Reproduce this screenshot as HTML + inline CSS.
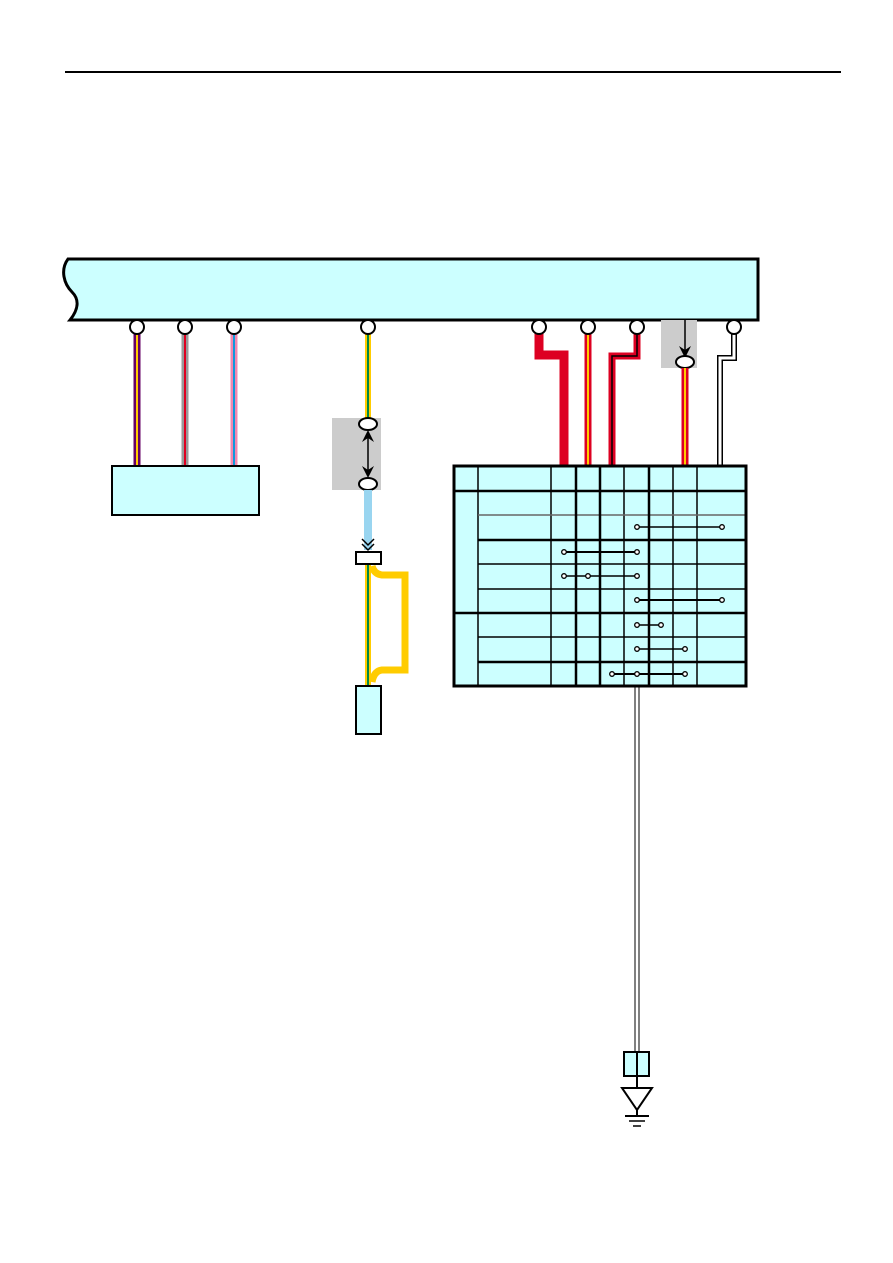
<!DOCTYPE html>
<html><head><meta charset="utf-8"><style>
html,body{margin:0;padding:0;background:#fff}
svg{display:block}
</style></head><body>
<svg width="893" height="1263" viewBox="0 0 893 1263" xmlns="http://www.w3.org/2000/svg">
<line x1="65" y1="72" x2="841" y2="72" stroke="#000" stroke-width="2"/>
<path d="M68,259 L758,259 L758,320 L70,320 C78,310 80,300 72,292 C64,284 60,270 68,259 Z" fill="#ccffff" stroke="#000" stroke-width="3"/>
<g>
<line x1="137" y1="330" x2="137" y2="466" stroke="#660066" stroke-width="7"/>
<line x1="137" y1="330" x2="137" y2="466" stroke="#ffcc00" stroke-width="2"/>
<line x1="185" y1="330" x2="185" y2="466" stroke="#999" stroke-width="7"/>
<line x1="185" y1="330" x2="185" y2="466" stroke="#e00020" stroke-width="2"/>
<line x1="234" y1="330" x2="234" y2="466" stroke="#f088b0" stroke-width="7"/>
<line x1="234" y1="330" x2="234" y2="466" stroke="#1199dd" stroke-width="2"/>
</g>
<rect x="112" y="466" width="147" height="49" fill="#ccffff" stroke="#000" stroke-width="2"/>
<rect x="332" y="418" width="49" height="72" fill="#cccccc"/>
<line x1="368" y1="330" x2="368" y2="418" stroke="#ffcc00" stroke-width="6"/>
<line x1="368" y1="330" x2="368" y2="418" stroke="#008844" stroke-width="2"/>
<ellipse cx="368" cy="424" rx="9" ry="6" fill="#fff" stroke="#000" stroke-width="2"/>
<ellipse cx="368" cy="484" rx="9" ry="6" fill="#fff" stroke="#000" stroke-width="2"/>
<line x1="368" y1="432" x2="368" y2="476" stroke="#000" stroke-width="1.5"/>
<path d="M362,442 L368,430 L374,442 L368,438 Z" fill="#000"/>
<path d="M362,466 L368,478 L374,466 L368,470 Z" fill="#000"/>
<line x1="368" y1="490" x2="368" y2="550" stroke="#99d5f0" stroke-width="8"/>
<path d="M362,539 L368,545 L374,539 M362,544 L368,550 L374,544" fill="none" stroke="#000" stroke-width="1.5"/>
<path d="M372,566 Q374,574 382,575 L405,575 L405,670 L382,670 Q374,671 372,682" fill="none" stroke="#ffcc00" stroke-width="7"/>
<line x1="368" y1="564" x2="368" y2="686" stroke="#ffcc00" stroke-width="6"/>
<line x1="368" y1="564" x2="368" y2="686" stroke="#008844" stroke-width="2"/>
<rect x="356" y="552" width="25" height="12" fill="#fff" stroke="#000" stroke-width="2"/>
<rect x="356" y="686" width="25" height="48" fill="#ccffff" stroke="#000" stroke-width="2"/>
<path d="M539,330 L539,355 L564,355 L564,466" fill="none" stroke="#dd0022" stroke-width="9"/>
<line x1="588" y1="330" x2="588" y2="466" stroke="#dd0022" stroke-width="7"/>
<line x1="588" y1="330" x2="588" y2="466" stroke="#ffcc00" stroke-width="2"/>
<path d="M637,330 L637,356 L612,356 L612,466" fill="none" stroke="#dd0022" stroke-width="7"/>
<path d="M637,330 L637,356 L612,356 L612,466" fill="none" stroke="#000" stroke-width="1.5"/>
<rect x="661" y="320" width="36" height="48" fill="#cccccc"/>
<line x1="685" y1="320" x2="685" y2="352" stroke="#000" stroke-width="1.5"/>
<path d="M679,346 L685,358 L691,346 L685,350 Z" fill="#000"/>
<ellipse cx="685" cy="362" rx="9" ry="6" fill="#fff" stroke="#000" stroke-width="2"/>
<line x1="685" y1="368" x2="685" y2="466" stroke="#dd0022" stroke-width="7"/>
<line x1="685" y1="368" x2="685" y2="466" stroke="#ffcc00" stroke-width="2"/>
<path d="M734,330 L734,358 L720,358 L720,466" fill="none" stroke="#000" stroke-width="6"/>
<path d="M734,330 L734,358 L720,358 L720,466" fill="none" stroke="#fff" stroke-width="3"/>
<g fill="#fff" stroke="#000" stroke-width="2">
<circle cx="137" cy="327" r="7"/><circle cx="185" cy="327" r="7"/><circle cx="234" cy="327" r="7"/>
<circle cx="368" cy="327" r="7"/><circle cx="539" cy="327" r="7"/><circle cx="588" cy="327" r="7"/>
<circle cx="637" cy="327" r="7"/><circle cx="734" cy="327" r="7"/>
</g>
<rect x="454" y="466" width="292" height="220" fill="#ccffff"/>
<g stroke="#000">
<g stroke-width="1.5">
<line x1="478" y1="466" x2="478" y2="686"/><line x1="551" y1="466" x2="551" y2="686"/>
<line x1="624" y1="466" x2="624" y2="686"/><line x1="673" y1="466" x2="673" y2="686"/>
<line x1="697" y1="466" x2="697" y2="686"/>
<line x1="478" y1="515" x2="746" y2="515" stroke="#666"/>
<line x1="478" y1="564" x2="746" y2="564"/><line x1="478" y1="589" x2="746" y2="589"/>
<line x1="478" y1="637" x2="746" y2="637"/>
</g>
<g stroke-width="2.5">
<line x1="576" y1="466" x2="576" y2="686"/><line x1="600" y1="466" x2="600" y2="686"/>
<line x1="649" y1="466" x2="649" y2="686"/>
<line x1="454" y1="491" x2="746" y2="491"/><line x1="478" y1="540" x2="746" y2="540"/>
<line x1="454" y1="613" x2="746" y2="613"/><line x1="478" y1="662" x2="746" y2="662"/>
</g>
<rect x="454" y="466" width="292" height="220" fill="none" stroke-width="3"/>
</g>
<g stroke="#000" stroke-width="1.5">
<line x1="637" y1="527" x2="722" y2="527"/>
<line x1="564" y1="552" x2="637" y2="552" stroke-width="2"/>
<line x1="564" y1="576" x2="637" y2="576"/>
<line x1="637" y1="600" x2="722" y2="600" stroke-width="2"/>
<line x1="637" y1="625" x2="661" y2="625"/>
<line x1="637" y1="649" x2="685" y2="649"/>
<line x1="612" y1="674" x2="685" y2="674" stroke-width="2"/>
</g>
<g fill="#fff" stroke="#000" stroke-width="1.3">
<circle cx="637" cy="527" r="2.3"/><circle cx="722" cy="527" r="2.3"/>
<circle cx="564" cy="552" r="2.3"/><circle cx="637" cy="552" r="2.3"/>
<circle cx="564" cy="576" r="2.3"/><circle cx="588" cy="576" r="2.3"/><circle cx="637" cy="576" r="2.3"/>
<circle cx="637" cy="600" r="2.3"/><circle cx="722" cy="600" r="2.3"/>
<circle cx="637" cy="625" r="2.3"/><circle cx="661" cy="625" r="2.3"/>
<circle cx="637" cy="649" r="2.3"/><circle cx="685" cy="649" r="2.3"/>
<circle cx="612" cy="674" r="2.3"/><circle cx="637" cy="674" r="2.3"/><circle cx="685" cy="674" r="2.3"/>
</g>
<line x1="635" y1="686" x2="635" y2="1052" stroke="#000" stroke-width="1"/>
<line x1="639" y1="686" x2="639" y2="1052" stroke="#000" stroke-width="1"/>
<rect x="624" y="1052" width="25" height="24" fill="#ccffff" stroke="#000" stroke-width="2"/>
<line x1="637" y1="1052" x2="637" y2="1088" stroke="#000" stroke-width="2"/>
<path d="M622,1088 L652,1088 L637,1110 Z" fill="#fff" stroke="#000" stroke-width="2"/>
<line x1="637" y1="1110" x2="637" y2="1116" stroke="#000" stroke-width="2"/>
<line x1="625" y1="1116" x2="649" y2="1116" stroke="#000" stroke-width="2"/>
<line x1="629" y1="1121" x2="645" y2="1121" stroke="#000" stroke-width="1.5"/>
<line x1="633" y1="1126" x2="641" y2="1126" stroke="#000" stroke-width="1.5"/>
</svg>
</body></html>
